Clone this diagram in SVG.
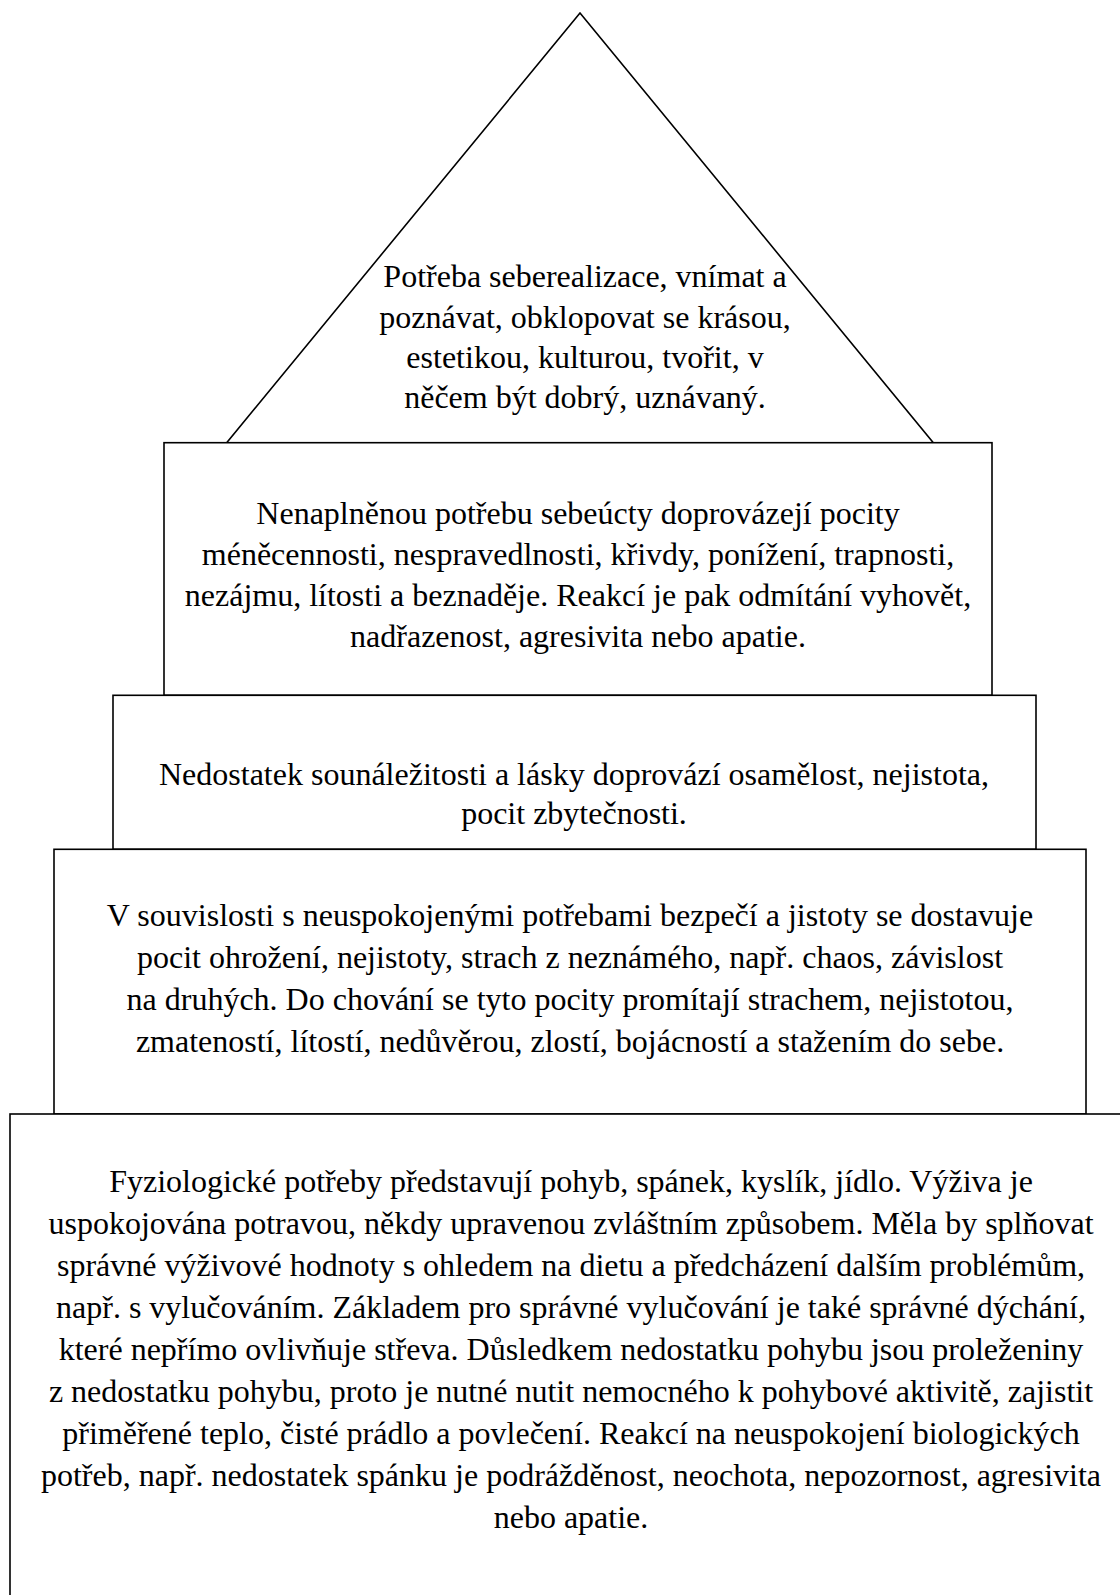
<svg xmlns="http://www.w3.org/2000/svg" width="1120" height="1595" viewBox="0 0 1120 1595">
<style>
.shape{fill:#ffffff;stroke:#000000;stroke-width:1.6}
.t{font-family:"Liberation Serif","Times New Roman",serif;font-size:32px;fill:#000000;text-anchor:middle}
</style>
<rect width="1120" height="1595" fill="#ffffff"/>
<g id="connectors"/>
<g id="node-selfactualization" font-family="Liberation Serif, serif">
<polygon class="shape" points="580,13 226.7,442.7 933.3,442.7"/>
<text class="t" x="585" y="287">Potřeba seberealizace, vnímat a</text>
<text class="t" x="585" y="327.5">poznávat, obklopovat se krásou,</text>
<text class="t" x="585" y="368">estetikou, kulturou, tvořit, v</text>
<text class="t" x="585" y="408">něčem být dobrý, uznávaný.</text>
</g>
<g id="node-esteem" font-family="Liberation Serif, serif">
<rect class="shape" x="164" y="442.7" width="828" height="252.6"/>
<text class="t" x="578" y="524">Nenaplněnou potřebu sebeúcty doprovázejí pocity</text>
<text class="t" x="578" y="565">méněcennosti, nespravedlnosti, křivdy, ponížení, trapnosti,</text>
<text class="t" x="578" y="606">nezájmu, lítosti a beznaděje. Reakcí je pak odmítání vyhovět,</text>
<text class="t" x="578" y="647">nadřazenost, agresivita nebo apatie.</text>
</g>
<g id="node-belonging" font-family="Liberation Serif, serif">
<rect class="shape" x="113" y="695.3" width="923" height="154"/>
<text class="t" x="574" y="785">Nedostatek sounáležitosti a lásky doprovází osamělost, nejistota,</text>
<text class="t" x="574" y="824">pocit zbytečnosti.</text>
</g>
<g id="node-safety" font-family="Liberation Serif, serif">
<rect class="shape" x="54" y="849.3" width="1032" height="264.7"/>
<text class="t" x="570" y="926">V souvislosti s neuspokojenými potřebami bezpečí a jistoty se dostavuje</text>
<text class="t" x="570" y="968">pocit ohrožení, nejistoty, strach z neznámého, např. chaos, závislost</text>
<text class="t" x="570" y="1010">na druhých. Do chování se tyto pocity promítají strachem, nejistotou,</text>
<text class="t" x="570" y="1052">zmateností, lítostí, nedůvěrou, zlostí, bojácností a stažením do sebe.</text>
</g>
<g id="node-physiological" font-family="Liberation Serif, serif">
<rect class="shape" x="10" y="1114" width="1200" height="600"/>
<text class="t" x="571" y="1192">Fyziologické potřeby představují pohyb, spánek, kyslík, jídlo. Výživa je</text>
<text class="t" x="571" y="1234">uspokojována potravou, někdy upravenou zvláštním způsobem. Měla by splňovat</text>
<text class="t" x="571" y="1276">správné výživové hodnoty s ohledem na dietu a předcházení dalším problémům,</text>
<text class="t" x="571" y="1318">např. s vylučováním. Základem pro správné vylučování je také správné dýchání,</text>
<text class="t" x="571" y="1360">které nepřímo ovlivňuje střeva. Důsledkem nedostatku pohybu jsou proleženiny</text>
<text class="t" x="571" y="1402">z nedostatku pohybu, proto je nutné nutit nemocného k pohybové aktivitě, zajistit</text>
<text class="t" x="571" y="1444">přiměřené teplo, čisté prádlo a povlečení. Reakcí na neuspokojení biologických</text>
<text class="t" x="571" y="1486">potřeb, např. nedostatek spánku je podrážděnost, neochota, nepozornost, agresivita</text>
<text class="t" x="571" y="1528">nebo apatie.</text>
</g>
</svg>
